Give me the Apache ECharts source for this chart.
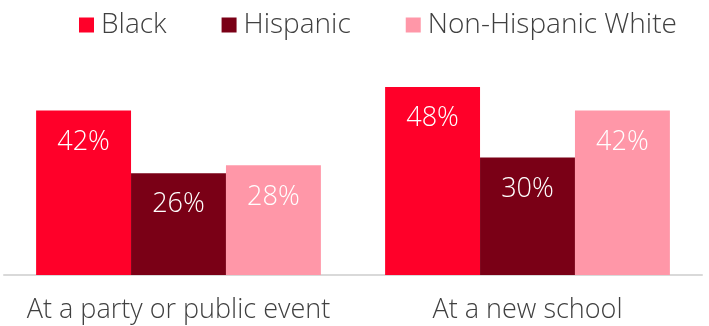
<!DOCTYPE html>
<html><head><meta charset="utf-8">
<script src="https://cdn.jsdelivr.net/npm/echarts@6/dist/echarts.min.js"></script>
<style>html,body{margin:0;padding:0;background:#fff}#c{width:709px;height:326px}</style>
</head><body><div id="c"></div>
<script>
const categories = ["At a party or public event", "At a new school"];
const seriesNames = ["Black", "Hispanic", "Non-Hispanic White"];
const black = [42, 48];
const hispanic = [26, 30];
const white = [28, 42];
const colors = ["#ff0029", "#7a0016", "#ff97a8"];
const FONT = "Open Sans";
const chart = echarts.init(document.getElementById('c'));
const vals = [black, hispanic, white];
chart.setOption({
  animation: false,
  color: colors,
  legend: {
    left: 74, top: 6, itemWidth: 15, itemHeight: 15, itemGap: 55, icon: 'rect',
    textStyle: {fontFamily: FONT, fontSize: 28, fontWeight: 300, color: '#404040', padding: [0,0,0,2]},
    data: seriesNames
  },
  grid: {left: 4, right: 7, top: 40, bottom: 51},
  xAxis: {
    type: 'category', data: categories,
    axisLine: {lineStyle: {color: '#d9d9d9', width: 2}},
    axisTick: {show: false},
    axisLabel: {interval: 0, fontFamily: FONT, fontSize: 27, fontWeight: 300, color: '#404040', margin: 22}
  },
  yAxis: {type: 'value', min: 0, max: 60, show: false, splitLine: {show: false}},
  series: seriesNames.map((n, i) => ({
    name: n, type: 'bar', data: vals[i], barGap: '0%', barCategoryGap: '18.4%',
    label: {show: true, position: 'insideTop', distance: 18, formatter: '{c}%',
      fontFamily: FONT, fontSize: 27, fontWeight: 300, color: '#fff'}
  }))
});
</script></body></html>
